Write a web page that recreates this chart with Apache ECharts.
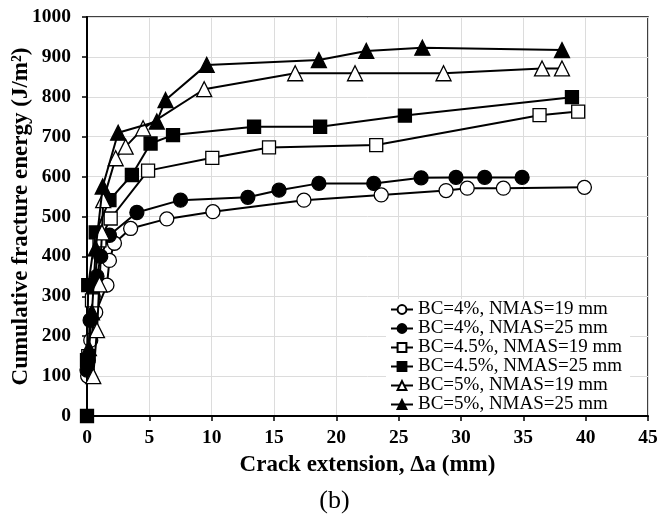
<!DOCTYPE html>
<html>
<head>
<meta charset="utf-8">
<title>Cumulative fracture energy vs crack extension</title>
<script src="https://cdn.jsdelivr.net/npm/echarts@6/dist/echarts.min.js"></script>
<style>
  html, body { margin: 0; padding: 0; background: #fff; }
  #chart { width: 669px; height: 518px; }
</style>
</head>
<body>
<div id="chart"></div>
<script>
// Crack extension Δa (mm) and cumulative fracture energy (J/m²) for each mix
const bc4n19 = [[0.05,100],[0.3,190],[0.7,260],[1.6,328],[1.8,390],[2.2,433],[3.5,470],[6.4,494],[10.1,512],[17.4,541],[23.6,554],[28.8,565],[30.5,571],[33.4,571],[39.9,573]];
const bc4n25 = [[0,115],[0.1,140],[0.25,240],[0.5,300],[0.8,350],[1.1,400],[1.8,453],[4.0,510],[7.5,541],[12.9,548],[15.4,566],[18.6,583],[23.0,583],[26.8,597],[29.6,598],[31.9,598],[34.9,598]];
const bc45n19 = [[0.1,150],[0.4,290],[1.0,440],[1.9,495],[4.9,615],[10.05,647],[14.6,673],[23.2,679],[36.3,754],[39.4,763]];
const bc45n25 = [[0,0],[0,140],[0.1,328],[0.7,460],[1.8,541],[3.6,604],[5.1,683],[6.9,704],[13.4,725],[18.7,725],[25.5,753],[38.9,799]];
const bc5n19 = [[0.5,100],[0.8,215],[1.0,330],[1.2,460],[1.3,541],[2.3,646],[3.1,675],[4.5,721],[9.4,819],[16.7,859],[21.5,859],[28.6,859],[36.5,871],[38.1,871]];
const bc5n25 = [[0.15,170],[0.4,260],[0.7,420],[1.26,575],[2.5,710],[5.6,738],[6.3,792],[9.6,880],[18.6,892],[22.4,915],[26.9,923],[38.1,917]];

const seriesNames = ['BC=4%, NMAS=19 mm','BC=4%, NMAS=25 mm','BC=4.5%, NMAS=19 mm','BC=4.5%, NMAS=25 mm','BC=5%, NMAS=19 mm','BC=5%, NMAS=25 mm'];
const seriesData = [bc4n19, bc4n25, bc45n19, bc45n25, bc5n19, bc5n25];
const symbols = ['circle','circle','rect','rect','triangle','triangle'];
const filled = [false, true, false, true, false, true];
const symbolSizes = [14, 14, 13, 13, 15, 15];

const xTicks = { min: 0, max: 45, interval: 5 };
const yTicks = { min: 0, max: 1000, interval: 100 };

const serif = '"Liberation Serif", "Times New Roman", serif';

const series = seriesData.map((d, i) => ({
  name: seriesNames[i],
  type: 'line',
  data: d,
  symbol: symbols[i],
  symbolSize: symbolSizes[i],
  showAllSymbol: true,
  lineStyle: { color: '#000', width: 2 },
  itemStyle: {
    color: filled[i] ? '#000' : '#fff',
    borderColor: '#000',
    borderWidth: 1.3
  },
  emphasis: { disabled: true },
  animation: false,
  z: 2 + i
}));

const chart = echarts.init(document.getElementById('chart'), null, { renderer: 'canvas' });
chart.setOption({
  backgroundColor: '#fff',
  animation: false,
  title: {
    text: '(b)',
    left: 'center',
    top: 483,
    textStyle: { fontFamily: serif, fontWeight: 'normal', fontSize: 26, color: '#000' }
  },
  grid: {
    left: 87, top: 17, width: 561, height: 399,
    containLabel: false,
    outerBoundsMode: 'none',
    show: true, borderColor: '#000', borderWidth: 1.5, backgroundColor: 'transparent'
  },
  legend: {
    orient: 'vertical',
    left: 386, top: 299,
    itemWidth: 22, itemHeight: 11, itemGap: 0,
    padding: [1, 8, 1, 4],
    backgroundColor: '#fff',
    textStyle: { fontFamily: serif, fontSize: 19, color: '#000', lineHeight: 18.8 },
    data: seriesNames
  },
  xAxis: {
    type: 'value',
    min: xTicks.min, max: xTicks.max, interval: xTicks.interval,
    name: 'Crack extension, Δa (mm)',
    nameLocation: 'middle', nameGap: 38,
    nameTextStyle: { fontFamily: serif, fontWeight: 'bold', fontSize: 23, color: '#000' },
    axisLine: { onZero: false, lineStyle: { color: '#000', width: 2 } },
    axisTick: { show: true, inside: false, length: 5, lineStyle: { color: '#000', width: 1.5 } },
    axisLabel: { fontFamily: serif, fontWeight: 'bold', fontSize: 19.5, color: '#000', margin: 12,
      formatter: v => String(v) },
    splitLine: { show: true, lineStyle: { color: '#dcdcdc', width: 1 } }
  },
  yAxis: {
    type: 'value',
    min: yTicks.min, max: yTicks.max, interval: yTicks.interval,
    name: 'Cumulative fracture energy (J/m²)',
    nameLocation: 'middle', nameGap: 54,
    nameMoveOverlap: false,
    nameTextStyle: { fontFamily: serif, fontWeight: 'bold', fontSize: 23, color: '#000' },
    axisLine: { onZero: false, lineStyle: { color: '#000', width: 2 } },
    axisTick: { show: true, inside: false, length: 5, lineStyle: { color: '#000', width: 1.5 } },
    axisLabel: { fontFamily: serif, fontWeight: 'bold', fontSize: 19.5, color: '#000', margin: 16,
      formatter: v => String(v) },
    splitLine: { show: true, lineStyle: { color: '#dcdcdc', width: 1 } }
  },
  series: series
});
</script>
</body>
</html>
